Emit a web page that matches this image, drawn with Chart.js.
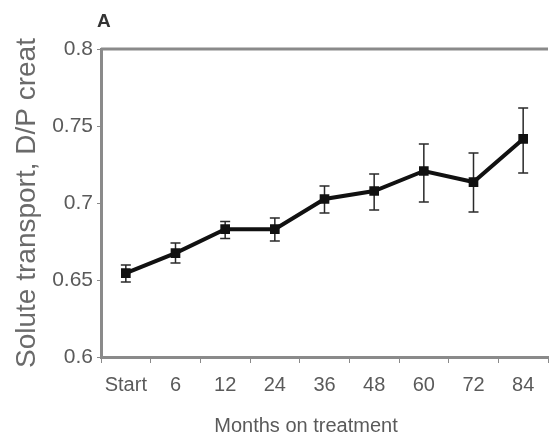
<!DOCTYPE html>
<html>
<head>
<meta charset="utf-8">
<script src="https://cdn.jsdelivr.net/npm/chart.js@4"></script>
<style>
  html, body { margin: 0; padding: 0; background: #fff; }
  #wrap { position: relative; width: 556px; height: 441px; }
  #panel { position: absolute; left: 97px; top: 10px; font: bold 19px "Liberation Sans", sans-serif; color: #333; }
  #xtitle { position: absolute; left: 206px; width: 200px; top: 414px; text-align: center;
            font: 20px "Liberation Sans", sans-serif; color: #5a5a5a; white-space: nowrap; }
</style>
</head>
<body>
<div id="wrap">
  <canvas id="chart" width="556" height="441"></canvas>
  <div id="panel">A</div>
  <div id="xtitle">Months on treatment</div>
</div>
<script>
// Solute transport (D/P creatinine) over time on treatment, mean with error bars.
const months = ["Start", "6", "12", "24", "36", "48", "60", "72", "84"];
const dpCreat = [0.6545, 0.6675, 0.683, 0.683, 0.7026, 0.7078, 0.7208, 0.7136, 0.7416];
const errHigh = [0.6597, 0.674, 0.688, 0.6903, 0.711, 0.7188, 0.7383, 0.7325, 0.7617];
const errLow = [0.6487, 0.661, 0.677, 0.6753, 0.6935, 0.6955, 0.7006, 0.6942, 0.7195];
const yTicks = [0.6, 0.65, 0.7, 0.75, 0.8];

const AXIS_GREY = "#8a8a8a";
const TEXT_GREY = "#5a5a5a";
const FONT = "'Liberation Sans', sans-serif";

// draws the error bars and the top frame line, using the chart's own scales
const errorBars = {
  id: "errorBars",
  beforeDatasetsDraw(chart) {
    const { ctx, chartArea, scales } = chart;
    ctx.save();
    ctx.strokeStyle = AXIS_GREY;
    ctx.lineWidth = 3;
    ctx.beginPath();
    ctx.moveTo(chartArea.left, chartArea.top);
    ctx.lineTo(chartArea.right, chartArea.top);
    ctx.stroke();

    ctx.strokeStyle = "#2a2a2a";
    ctx.lineWidth = 1.5;
    months.forEach((_, i) => {
      const x = scales.x.getPixelForValue(i);
      const top = scales.y.getPixelForValue(errHigh[i]);
      const bot = scales.y.getPixelForValue(errLow[i]);
      ctx.beginPath();
      ctx.moveTo(x, top);
      ctx.lineTo(x, bot);
      ctx.moveTo(x - 5, top);
      ctx.lineTo(x + 5, top);
      ctx.moveTo(x - 5, bot);
      ctx.lineTo(x + 5, bot);
      ctx.stroke();
    });
    ctx.restore();
  },
};

new Chart(document.getElementById("chart"), {
  type: "line",
  data: {
    labels: months,
    datasets: [{
      data: dpCreat,
      borderColor: "#111",
      borderWidth: 4,
      pointStyle: "rect",
      pointRadius: 4,
      pointBackgroundColor: "#111",
      pointBorderColor: "#111",
      tension: 0,
    }],
  },
  options: {
    responsive: false,
    animation: false,
    layout: { padding: { top: 49, right: 0, left: 0, bottom: 0 } },
    plugins: { legend: { display: false }, tooltip: { enabled: false } },
    scales: {
      x: {
        offset: true,
        grid: { offset: true, drawOnChartArea: false, drawTicks: true, tickLength: 6, color: AXIS_GREY },
        border: { color: AXIS_GREY, width: 3 },
        ticks: { color: TEXT_GREY, font: { family: FONT, size: 20 }, padding: 10, maxRotation: 0, autoSkip: false },
        afterFit(scale) { scale.height = 84; },
      },
      y: {
        min: 0.6,
        max: 0.8,
        afterBuildTicks(scale) { scale.ticks = yTicks.map((v) => ({ value: v })); },
        grid: { drawOnChartArea: false, drawTicks: true, tickLength: 4, color: AXIS_GREY },
        border: { color: AXIS_GREY, width: 3 },
        ticks: {
          color: TEXT_GREY,
          font: { family: FONT, size: 21 },
          padding: 4,
          callback: (v) => String(Number(v.toFixed(2))),
        },
        title: { display: true, text: "Solute transport, D/P creat", color: "#6a6a6a", font: { family: FONT, size: 28 }, padding: { top: 10, bottom: 0 } },
        afterFit(scale) { scale.width = 101; },
      },
    },
  },
  plugins: [errorBars],
});
</script>
</body>
</html>
